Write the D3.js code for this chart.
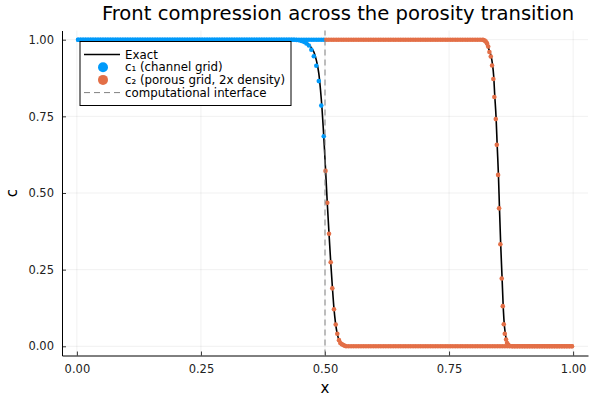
<!DOCTYPE html>
<html>
<head>
<meta charset="utf-8">
<script src="https://cdn.jsdelivr.net/npm/d3@7"></script>
<style>
  body { margin: 0; background: #fff; }
  text { font-family: "DejaVu Sans", sans-serif; }
</style>
</head>
<body>
<script>
// channel grid (x < 0.5), two snapshots
const chanX = [
  0.0025,0.0075,0.0125,0.0175,0.0225,0.0275,0.0325,0.0375,0.0425,0.0475,
  0.0525,0.0575,0.0625,0.0675,0.0725,0.0775,0.0825,0.0875,0.0925,0.0975,
  0.1025,0.1075,0.1125,0.1175,0.1225,0.1275,0.1325,0.1375,0.1425,0.1475,
  0.1525,0.1575,0.1625,0.1675,0.1725,0.1775,0.1825,0.1875,0.1925,0.1975,
  0.2025,0.2075,0.2125,0.2175,0.2225,0.2275,0.2325,0.2375,0.2425,0.2475,
  0.2525,0.2575,0.2625,0.2675,0.2725,0.2775,0.2825,0.2875,0.2925,0.2975,
  0.3025,0.3075,0.3125,0.3175,0.3225,0.3275,0.3325,0.3375,0.3425,0.3475,
  0.3525,0.3575,0.3625,0.3675,0.3725,0.3775,0.3825,0.3875,0.3925,0.3975,
  0.4025,0.4075,0.4125,0.4175,0.4225,0.4275,0.4325,0.4375,0.4425,0.4475,
  0.4525,0.4575,0.4625,0.4675,0.4725,0.4775,0.4825,0.4875,0.4925,0.4975
]
const c1Early = [
  1,1,1,1,1,1,1,1,1,1,
  1,1,1,1,1,1,1,1,1,1,
  1,1,1,1,1,1,1,1,1,1,
  1,1,1,1,1,1,1,1,1,1,
  1,1,1,1,1,1,1,1,1,1,
  1,1,1,1,1,1,1,1,1,1,
  1,1,1,1,1,1,1,1,1,1,
  1,1,1,1,1,1,1,1,1,1,
  1,1,1,1,1,1,1,1,0.999,0.998,
  0.996,0.993,0.988,0.981,0.967,0.946,0.915,0.865,0.785,0.685
]
const c1Late = [
  1,1,1,1,1,1,1,1,1,1,
  1,1,1,1,1,1,1,1,1,1,
  1,1,1,1,1,1,1,1,1,1,
  1,1,1,1,1,1,1,1,1,1,
  1,1,1,1,1,1,1,1,1,1,
  1,1,1,1,1,1,1,1,1,1,
  1,1,1,1,1,1,1,1,1,1,
  1,1,1,1,1,1,1,1,1,1,
  1,1,1,1,1,1,1,1,1,1,
  1,1,1,1,1,1,1,1,1,1
]

// porous grid (x > 0.5), early snapshot
const poroEarlyX = [
  0.5010,0.5046,0.5081,0.5115,0.5147,0.5181,0.5216,0.5248,0.5282,0.5308,0.5337,0.5370,0.5400,
  0.5425,0.5475,0.5525,0.5575,0.5625,0.5675,0.5725,0.5775,0.5825,0.5875,
  0.5925,0.5975,0.6025,0.6075,0.6125,0.6175,0.6225,0.6275,0.6325,0.6375,
  0.6425,0.6475,0.6525,0.6575,0.6625,0.6675,0.6725,0.6775,0.6825,0.6875,
  0.6925,0.6975,0.7025,0.7075,0.7125,0.7175,0.7225,0.7275,0.7325,0.7375,
  0.7425,0.7475,0.7525,0.7575,0.7625,0.7675,0.7725,0.7775,0.7825,0.7875,
  0.7925,0.7975,0.8025,0.8075,0.8125,0.8175,0.8225,0.8275,0.8325,0.8375,
  0.8425,0.8475,0.8525,0.8575,0.8625,0.8675,0.8725,0.8775,0.8825,0.8875,
  0.8925,0.8975,0.9025,0.9075,0.9125,0.9175,0.9225,0.9275,0.9325,0.9375,
  0.9425,0.9475,0.9525,0.9575,0.9625,0.9675,0.9725,0.9775,0.9825,0.9875,
  0.9925,0.9975
]
const c2Early = [
  0.572,0.468,0.367,0.274,0.189,0.121,0.071,0.041,0.020,0.011,0.007,0.004,0.002,
  0,0,0,0,0,0,0,0,0,0,
  0,0,0,0,0,0,0,0,0,0,
  0,0,0,0,0,0,0,0,0,0,
  0,0,0,0,0,0,0,0,0,0,
  0,0,0,0,0,0,0,0,0,0,
  0,0,0,0,0,0,0,0,0,0,
  0,0,0,0,0,0,0,0,0,0,
  0,0,0,0,0,0,0,0,0,0,
  0,0,0,0,0,0,0,0,0,0,
  0,0
]

// porous grid, late snapshot
const poroLateX = [
  0.5025,0.5075,0.5125,0.5175,0.5225,0.5275,0.5325,0.5375,0.5425,0.5475,
  0.5525,0.5575,0.5625,0.5675,0.5725,0.5775,0.5825,0.5875,0.5925,0.5975,
  0.6025,0.6075,0.6125,0.6175,0.6225,0.6275,0.6325,0.6375,0.6425,0.6475,
  0.6525,0.6575,0.6625,0.6675,0.6725,0.6775,0.6825,0.6875,0.6925,0.6975,
  0.7025,0.7075,0.7125,0.7175,0.7225,0.7275,0.7325,0.7375,0.7425,0.7475,
  0.7525,0.7575,0.7625,0.7675,0.7725,0.7775,0.7825,0.7875,0.7925,0.7975,
  0.8025,0.8075,0.8125,0.8175,
  0.8193,0.8217,0.8241,0.8265,0.8289,0.8313,0.8341,0.8367,0.8393,0.8413,0.8442,0.8462,
  0.8488,0.8508,0.8534,0.8562,0.8583,0.8603,0.8623,0.8649,0.8669,0.8692,0.8715,
  0.8775,0.8825,0.8875,0.8925,0.8975,0.9025,0.9075,0.9125,0.9175,0.9225,
  0.9275,0.9325,0.9375,0.9425,0.9475,0.9525,0.9575,0.9625,0.9675,0.9725,
  0.9775,0.9825,0.9875,0.9925,0.9975
]
const c2Late = [
  1,1,1,1,1,1,1,1,1,1,
  1,1,1,1,1,1,1,1,1,1,
  1,1,1,1,1,1,1,1,1,1,
  1,1,1,1,1,1,1,1,1,1,
  1,1,1,1,1,1,1,1,1,1,
  1,1,1,1,1,1,1,1,1,1,
  1,1,1,1,
  0.999,0.997,0.994,0.988,0.978,0.960,0.945,0.916,0.872,0.813,0.741,0.657,
  0.559,0.450,0.333,0.221,0.131,0.072,0.041,0.022,0.011,0.005,0.002,
  0,0,0,0,0,0,0,0,0,0,
  0,0,0,0,0,0,0,0,0,0,
  0,0,0,0,0
]

// exact solution at the two times
const exactEarlyX = [0, 0.40, 0.44, 0.455, 0.465, 0.472, 0.478, 0.483, 0.4875, 0.491, 0.494, 0.4965, 0.499,
  0.5015, 0.5045, 0.508, 0.5115, 0.515, 0.518, 0.521, 0.524, 0.527, 0.530, 0.534, 0.540, 0.550, 1.0]
const exactEarlyC = [1, 1, 0.999, 0.997, 0.988, 0.975, 0.958, 0.930, 0.890, 0.835, 0.775, 0.712, 0.640,
  0.565, 0.470, 0.370, 0.275, 0.190, 0.125, 0.078, 0.046, 0.026, 0.014, 0.006, 0.002, 0, 0]
const exactLateX = [0, 0.80, 0.815, 0.822, 0.827, 0.831, 0.8345, 0.8375, 0.84, 0.842, 0.8448, 0.847,
  0.8495, 0.8515, 0.854, 0.8568, 0.859, 0.861, 0.863, 0.8655, 0.8685, 0.872, 0.878, 1.0]
const exactLateC = [1, 1, 0.998, 0.993, 0.982, 0.965, 0.948, 0.920, 0.880, 0.820, 0.745, 0.655,
  0.560, 0.455, 0.335, 0.225, 0.135, 0.078, 0.045, 0.022, 0.009, 0.003, 0, 0]

const ticks = [0, 0.25, 0.5, 0.75, 1.0]
const legendLabels = ['Exact', 'c₁ (channel grid)', 'c₂ (porous grid, 2x density)', 'computational interface']
const interfaceX = 0.5

const W = 600, H = 400
const blue = '#009AFA', orange = '#E36F47'

const svg = d3.select('body').append('svg')
  .attr('width', W).attr('height', H)

const x = d3.scaleLinear().domain([-0.03, 1.03]).range([62, 588])
const y = d3.scaleLinear().domain([-0.03, 1.03]).range([355.5, 30.5])

// grid
svg.append('g').selectAll('line').data(ticks).enter().append('line')
  .attr('x1', d => x(d)).attr('x2', d => x(d))
  .attr('y1', y.range()[0]).attr('y2', y.range()[1])
  .attr('stroke', '#000').attr('stroke-opacity', 0.1).attr('stroke-width', 0.6)
svg.append('g').selectAll('line').data(ticks).enter().append('line')
  .attr('y1', d => y(d)).attr('y2', d => y(d))
  .attr('x1', x.range()[0]).attr('x2', x.range()[1])
  .attr('stroke', '#000').attr('stroke-opacity', 0.1).attr('stroke-width', 0.6)

// axes
const fmt = d3.format('.2f')
const xAxis = svg.append('g')
  .attr('transform', 'translate(0,' + y.range()[0] + ')')
  .call(d3.axisBottom(x).tickValues(ticks).tickFormat(fmt).tickSizeInner(-4).tickSizeOuter(0).tickPadding(9))
const yAxis = svg.append('g')
  .attr('transform', 'translate(' + x.range()[0] + ',0)')
  .call(d3.axisLeft(y).tickValues(ticks).tickFormat(fmt).tickSizeInner(-4).tickSizeOuter(0).tickPadding(8))
;[xAxis, yAxis].forEach(a => {
  a.select('.domain').attr('stroke', '#000').attr('stroke-width', 1)
  a.selectAll('.tick line').attr('stroke', '#000').attr('stroke-width', 0.8)
  a.selectAll('.tick text').attr('font-size', '11.5px').attr('fill', '#222')
    .style('font-family', '"DejaVu Sans", sans-serif')
})

// exact curves
const line = d3.line().x(d => x(d[0])).y(d => y(d[1])).curve(d3.curveMonotoneX)
;[[exactEarlyX, exactEarlyC], [exactLateX, exactLateC]].forEach(([xs, cs]) => {
  svg.append('path')
    .datum(xs.map((v, i) => [v, cs[i]]))
    .attr('d', line)
    .attr('fill', 'none').attr('stroke', '#000').attr('stroke-width', 1.6)
})

// scatter series
function dots (xs, cs, color) {
  svg.append('g').selectAll('circle')
    .data(xs.map((v, i) => [v, cs[i]]))
    .enter().append('circle')
    .attr('cx', d => x(d[0])).attr('cy', d => y(d[1]))
    .attr('r', 2.3).attr('fill', color)
}
dots(chanX, c1Early, blue)
dots(chanX, c1Late, blue)
dots(poroEarlyX, c2Early, orange)
dots(poroLateX, c2Late, orange)

// interface
svg.append('line')
  .attr('x1', x(interfaceX)).attr('x2', x(interfaceX))
  .attr('y1', y.range()[0]).attr('y2', y.range()[1])
  .attr('stroke', '#808080').attr('stroke-width', 1).attr('stroke-dasharray', '6,4')

// title and labels
svg.append('text').attr('x', 338).attr('y', 20)
  .attr('text-anchor', 'middle').attr('font-size', '19.6px').attr('fill', '#000')
  .text('Front compression across the porosity transition')
svg.append('text').attr('x', (x.range()[0] + x.range()[1]) / 2).attr('y', 393)
  .attr('text-anchor', 'middle').attr('font-size', '15px').text('x')
svg.append('text').attr('transform', 'translate(17,' + ((y.range()[0] + y.range()[1]) / 2) + ') rotate(-90)')
  .attr('text-anchor', 'middle').attr('font-size', '15px').text('c')

// legend
const lg = svg.append('g').attr('transform', 'translate(80,41.5)')
lg.append('rect').attr('width', 211).attr('height', 64)
  .attr('fill', '#fff').attr('stroke', '#000').attr('stroke-width', 1)
legendLabels.forEach((t, i) => {
  const ry = 13 + i * 12.7
  if (i === 0) {
    lg.append('line').attr('x1', 4).attr('x2', 40).attr('y1', ry).attr('y2', ry)
      .attr('stroke', '#000').attr('stroke-width', 1.6)
  } else if (i === 3) {
    lg.append('line').attr('x1', 4).attr('x2', 40).attr('y1', ry).attr('y2', ry)
      .attr('stroke', '#808080').attr('stroke-width', 1).attr('stroke-dasharray', '6,4')
  } else {
    lg.append('circle').attr('cx', 23).attr('cy', ry).attr('r', 5)
      .attr('fill', i === 1 ? blue : orange)
  }
  lg.append('text').attr('x', 45).attr('y', ry + 4).attr('font-size', '11.8px').attr('fill', '#000').text(t)
})
</script>
</body>
</html>
